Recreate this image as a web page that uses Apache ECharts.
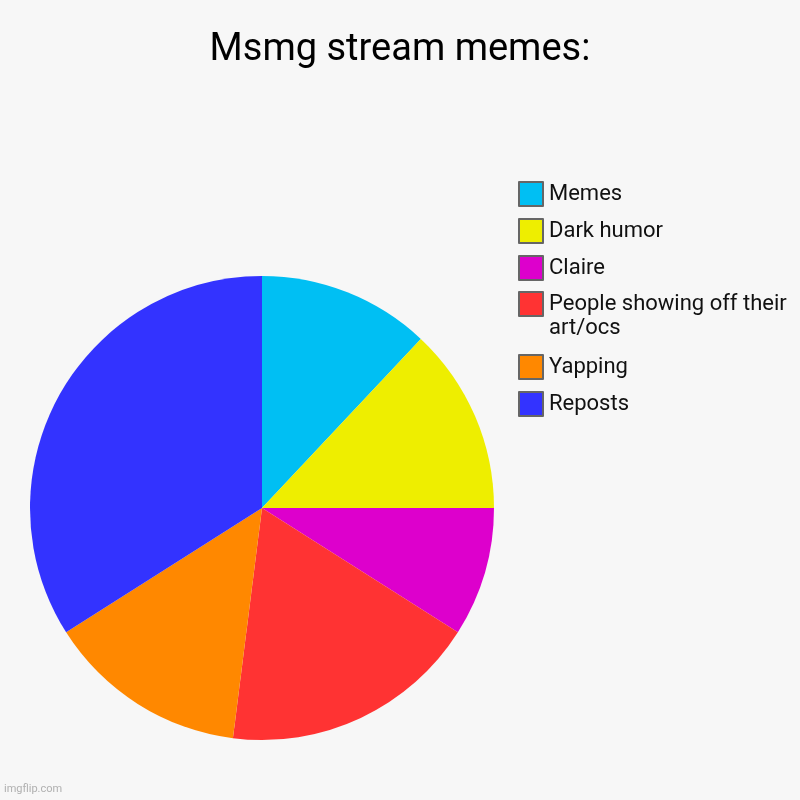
<!DOCTYPE html>
<html>
<head>
<meta charset="utf-8">
<script src="https://cdn.jsdelivr.net/npm/echarts@6/dist/echarts.min.js"></script>
<style>
html,body{margin:0;padding:0;background:#f7f7f7;}
#chart{width:800px;height:800px;}
</style>
</head>
<body>
<div id="chart"></div>
<script>
const categories = ["Memes", "Dark humor", "Claire", "People showing off their art/ocs", "Yapping", "Reposts"];
const legendLabels = ["Memes", "Dark humor", "Claire", "\nPeople showing off their\nart/ocs", "Yapping", "Reposts"];
const values = [12, 13, 9, 18, 14, 34];
const colors = ["#00bff3", "#eeee00", "#dd00cc", "#ff3333", "#ff8800", "#3333ff"];

const chart = echarts.init(document.getElementById('chart'));
const legendBase = {
  orient: 'vertical',
  left: 518,
  padding: 0,
  itemWidth: 24,
  itemHeight: 24,
  itemGap: 11,
  icon: 'rect',
  itemStyle: { borderColor: '#666', borderWidth: 2 },
  textStyle: { fontFamily: 'Roboto', fontSize: 22, color: '#111', lineHeight: 24, padding: [0, 0, 0, 1] },
  formatter: function (name) { return legendLabels[categories.indexOf(name)]; }
};
chart.setOption({
  backgroundColor: '#f7f7f7',
  title: {
    text: 'Msmg stream memes:',
    left: 'center',
    top: 26,
    textStyle: { fontFamily: 'Roboto', fontSize: 38, fontWeight: 'normal', color: '#000' }
  },
  legend: [
    Object.assign({}, legendBase, { top: 181, data: categories.slice(0, 3) }),
    Object.assign({}, legendBase, { top: 268, data: [categories[3]] }),
    Object.assign({}, legendBase, { top: 354, data: categories.slice(4) })
  ],
  graphic: [{
    type: 'text', left: 4, top: 784,
    style: { text: 'imgflip.com', fontFamily: 'Roboto', fontSize: 11, fill: '#b0b0b0' }
  }],
  series: [{
    type: 'pie',
    center: [262, 508],
    radius: 232,
    startAngle: 90,
    clockwise: true,
    label: { show: false },
    labelLine: { show: false },
    emphasis: { disabled: true },
    animation: false,
    data: categories.map((c, i) => ({ name: c, value: values[i], itemStyle: { color: colors[i] } }))
  }]
});
</script>
</body>
</html>
